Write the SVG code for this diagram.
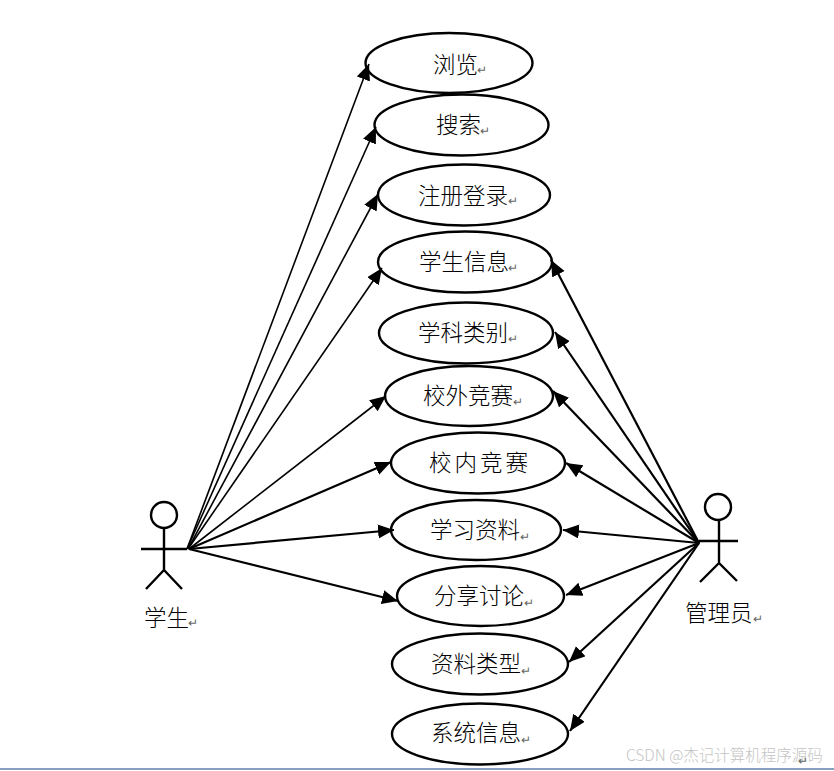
<svg xmlns="http://www.w3.org/2000/svg" width="834" height="771" viewBox="0 0 834 771">
<style>
.s{fill:none;stroke:#000;stroke-width:2.400}
.t{stroke:#000;stroke-width:1.600;fill:none;marker-end:url(#a)}
.u{stroke:#000;stroke-width:2.200;fill:none;marker-end:url(#a)}
text{font-family:"Noto Sans CJK SC","Liberation Serif",sans-serif;font-size:22.500px;font-weight:300;fill:#000}
.r{font-family:"DejaVu Sans",sans-serif;font-size:12px;fill:#666}
.w{font-size:15.500px;fill:#c4c4c4}
</style>
<defs><marker id="a" markerUnits="userSpaceOnUse" markerWidth="17" markerHeight="15" refX="16" refY="7" orient="auto"><path d="M0 0L16 7L0 14Z" fill="#000"/></marker></defs>
<rect width="834" height="771" fill="#fff"/>
<g id="connectors">
<path class="t" d="M187 549L369 64"/>
<path class="t" d="M187 549L376 127"/>
<path class="t" d="M188 549L378 194"/>
<path class="t" d="M188 549L382 268"/>
<path class="t" d="M189 549L386 396"/>
<path class="u" d="M189 549L391 462"/>
<path class="u" d="M189 549L394 530"/>
<path class="u" d="M189 549L398 601"/>
<path class="u" d="M699 543L551 260"/>
<path class="u" d="M699 543L555 332"/>
<path class="u" d="M699 543L553 391"/>
<path class="u" d="M699 543L566 463"/>
<path class="u" d="M699 543L563 530"/>
<path class="u" d="M699 543L566 595"/>
<path class="u" d="M699 543L569 662"/>
<path class="u" d="M699 543L570 731"/>
</g>
<g id="n1"><ellipse class="s" cx="449" cy="63" rx="83.500" ry="30"/><text x="433" y="73">浏览</text><text class="r" x="477" y="74">↵</text></g>
<g id="n2"><ellipse class="s" cx="461.500" cy="125" rx="87" ry="30.500"/><text x="436" y="133">搜索</text><text class="r" x="480" y="135">↵</text></g>
<g id="n3"><ellipse class="s" cx="464" cy="195" rx="86" ry="30.500"/><text x="418" y="204">注册登录</text><text class="r" x="508" y="205">↵</text></g>
<g id="n4"><ellipse class="s" cx="465" cy="262" rx="87" ry="30.500"/><text x="419" y="270">学生信息</text><text class="r" x="508" y="272">↵</text></g>
<g id="n5"><ellipse class="s" cx="466" cy="333" rx="87" ry="30.500"/><text x="418" y="341">学科类别</text><text class="r" x="508" y="343">↵</text></g>
<g id="n6"><ellipse class="s" cx="469" cy="396" rx="84" ry="30"/><text x="423" y="404">校外竞赛</text><text class="r" x="513" y="406">↵</text></g>
<g id="n7"><ellipse class="s" cx="478" cy="463" rx="87" ry="30.500"/><text x="429" y="471" letter-spacing="3">校内竞赛</text></g>
<g id="n8"><ellipse class="s" cx="476" cy="530" rx="85" ry="30"/><text x="430" y="538">学习资料</text><text class="r" x="520" y="541">↵</text></g>
<g id="n9"><ellipse class="s" cx="480.500" cy="596" rx="83.500" ry="30"/><text x="434" y="604">分享讨论</text><text class="r" x="524" y="607">↵</text></g>
<g id="n10"><ellipse class="s" cx="480" cy="664" rx="88" ry="30.500"/><text x="431" y="672">资料类型</text><text class="r" x="521" y="675">↵</text></g>
<g id="n11"><ellipse class="s" cx="480" cy="734" rx="88" ry="30.500"/><text x="431" y="741">系统信息</text><text class="r" x="521" y="744">↵</text></g>
<g id="student"><circle class="s" cx="164" cy="515" r="13"/><path class="s" d="M164 528V570M141 549H187M164 570L146 589M164 570L182 589"/><text x="144" y="626">学生</text><text class="r" x="188" y="627">↵</text></g>
<g id="admin"><circle class="s" cx="718" cy="507" r="13"/><path class="s" d="M719 520V563M699 541H738M719 563L700 582M719 563L737 581"/><text x="685" y="621">管理员</text><text class="r" x="753" y="623">↵</text></g>
<g id="watermark"><text class="w" x="626" y="761">CSDN @杰记计算机程序源码</text></g>
<text class="r" x="798" y="765">↵</text>
<path d="M0 769H834" stroke="#5f7ea8" stroke-width="1.500"/>
</svg>
